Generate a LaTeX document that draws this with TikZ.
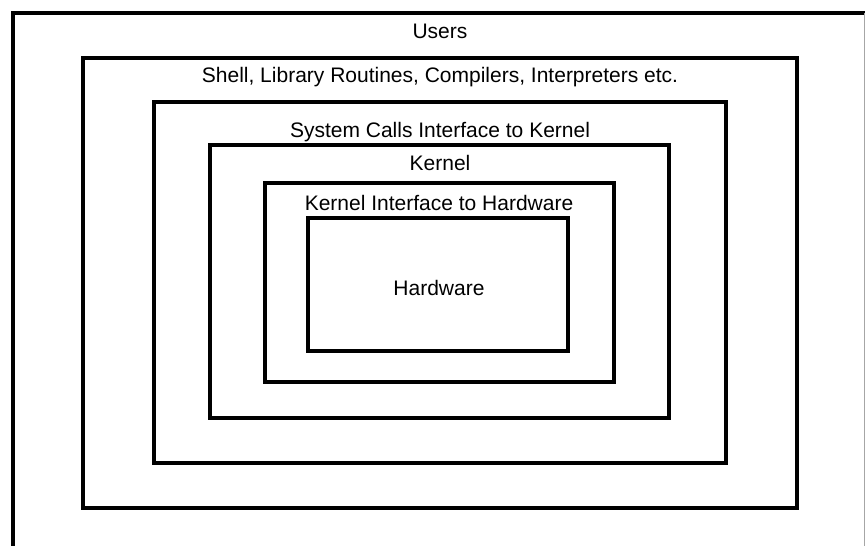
\documentclass[tikz,border=0pt]{standalone}
\usepackage{fontspec}
\setmainfont{Liberation Sans}
\usepackage{tikz}
\newcommand{\lbl}{\fontsize{21}{24}\selectfont}

\begin{document}
\begin{tikzpicture}[x=1pt, y=-1pt, line width=4.5pt]
    \useasboundingbox (0,0) rectangle (865,546);
    \clip (0,0) rectangle (865,546);
    % outer frame, open at the bottom
    \draw (13,560) -- (13,13) -- (870,13);
    \draw[line width=1pt, black!35] (864,13) -- (864,546);
    % nested layers
    \draw (83,58) rectangle (797,508);
    \draw (154,102) rectangle (726,463);
    \draw (210,145) rectangle (669,418);
    \draw (265,183) rectangle (614,382);
    \draw (308,218) rectangle (568,351);
    \path[font=\lbl, inner sep=0pt, anchor=base]
    (440,38) node (users) {Users}
    (440,82) node (shell) {Shell, Library Routines, Compilers, Interpreters etc.}
    (440,137) node (syscalls) {System Calls Interface to Kernel}
    (440,170) node (kernel) {Kernel}
    (439,210) node (kiface) {Kernel Interface to Hardware}
    (439,295) node (hw) {Hardware};
  \end{tikzpicture}
\end{document}
